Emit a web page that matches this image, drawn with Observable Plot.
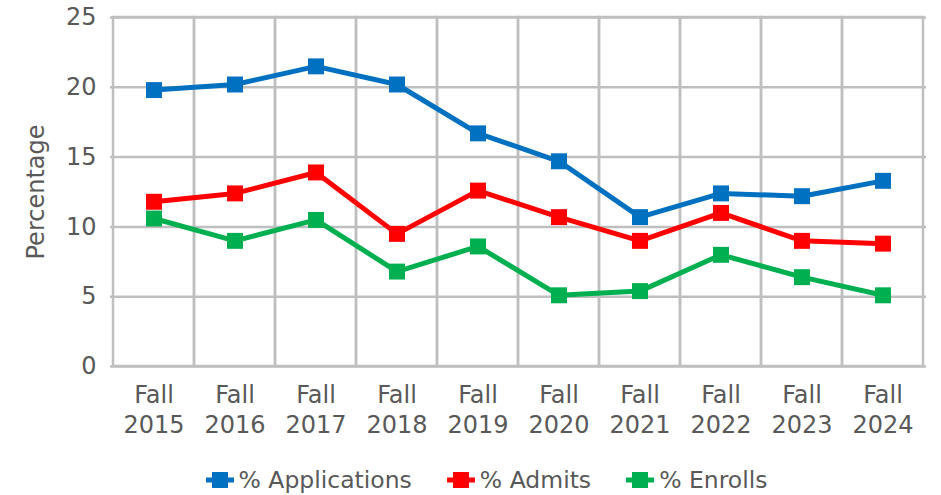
<!DOCTYPE html>
<html>
<head>
<meta charset="utf-8">
<script src="https://cdn.jsdelivr.net/npm/d3@7"></script>
<script src="https://cdn.jsdelivr.net/npm/@observablehq/plot@0.6"></script>
<style>
  html, body { margin: 0; padding: 0; background: #fff; }
  body { width: 941px; height: 495px; overflow: hidden; font-family: "DejaVu Sans", Verdana, sans-serif; }
  #legend { display: flex; justify-content: center; align-items: center; gap: 35px; height: 40px; margin-top: 5px; padding-left: 32px; font-size: 23.5px; color: #595959; }
  .item { display: flex; align-items: center; gap: 5px; }
</style>
</head>
<body>
<div id="chart"></div>
<div id="legend"></div>
<script>
const years = ["Fall\n2015", "Fall\n2016", "Fall\n2017", "Fall\n2018", "Fall\n2019", "Fall\n2020", "Fall\n2021", "Fall\n2022", "Fall\n2023", "Fall\n2024"];
const applications = [19.8, 20.2, 21.5, 20.2, 16.7, 14.7, 10.7, 12.4, 12.2, 13.3];
const admits = [11.8, 12.4, 13.9, 9.5, 12.6, 10.7, 9.0, 11.0, 9.0, 8.8];
const enrolls = [10.6, 9.0, 10.5, 6.8, 8.6, 5.1, 5.4, 8.0, 6.4, 5.1];
const seriesNames = ["% Applications", "% Admits", "% Enrolls"];
const seriesColors = ["#0070C0", "#FF0000", "#00B050"];
const yTicks = [0, 5, 10, 15, 20, 25];

const seriesValues = [applications, admits, enrolls];
const data = seriesNames.flatMap((s, k) => years.map((yr, i) => ({series: s, year: yr, value: seriesValues[k][i]})));

const grid = "#BFBFBF";
const textColor = "#595959";

const chart = Plot.plot({
  width: 941,
  height: 455,
  marginTop: 17,
  marginBottom: 89,
  marginLeft: 110,
  marginRight: 15,
  style: {fontFamily: "DejaVu Sans, Verdana, sans-serif", color: textColor, background: "#fff"},
  x: {type: "band", domain: years, padding: 0},
  y: {domain: [0, 25]},
  color: {domain: seriesNames, range: seriesColors},
  marks: [
    Plot.cell(years, {x: d => d, fill: "none", stroke: grid, strokeWidth: 2.5}),
    Plot.ruleY(yTicks, {stroke: grid, strokeWidth: 2.5}),
    Plot.axisX({tickSize: 0, tickPadding: 15, fontSize: 24, lineHeight: 1.25, label: null, fill: textColor}),
    Plot.axisY(yTicks, {tickSize: 0, tickPadding: 14, fontSize: 24, label: "Percentage", labelArrow: "none", labelAnchor: "center", labelOffset: 84, fill: textColor}),
    Plot.lineY(data, {x: "year", y: "value", z: "series", stroke: "series", strokeWidth: 5}),
    Plot.dot(data, {x: "year", y: "value", fill: "series", symbol: "square", r: 9})
  ]
});
document.getElementById("chart").appendChild(chart);

const legend = d3.select("#legend");
seriesNames.forEach((s, k) => {
  const item = legend.append("div").attr("class", "item");
  const svg = item.append("svg").attr("width", 28).attr("height", 20);
  svg.append("line").attr("x1", 0).attr("x2", 28).attr("y1", 10).attr("y2", 10).attr("stroke", seriesColors[k]).attr("stroke-width", 5);
  svg.append("rect").attr("x", 6).attr("y", 2).attr("width", 16).attr("height", 16).attr("fill", seriesColors[k]);
  item.append("span").text(s);
});
</script>
</body>
</html>
